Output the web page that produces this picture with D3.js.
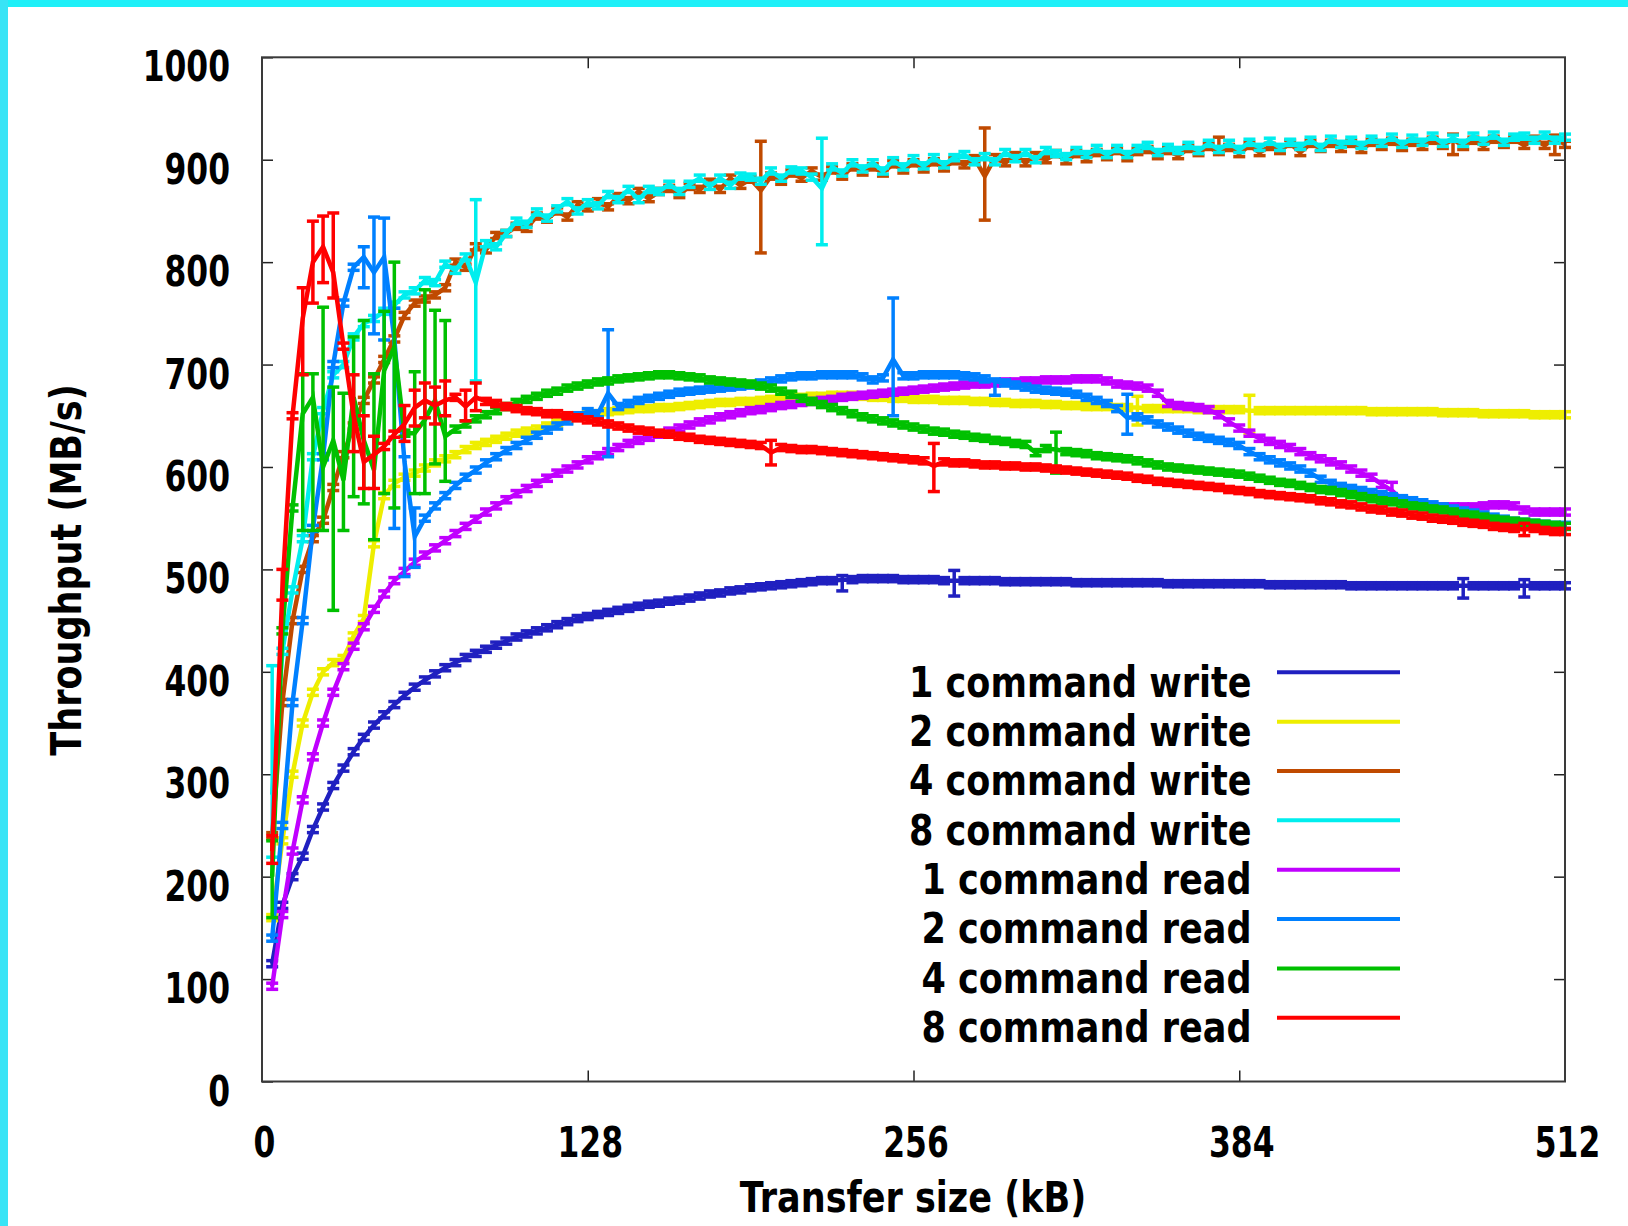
<!DOCTYPE html>
<html><head><meta charset="utf-8">
<script src="https://cdn.jsdelivr.net/npm/d3@7"></script>
<style>html,body{margin:0;padding:0;background:#fff;overflow:hidden}svg{display:block}</style>
</head><body>
<svg id="c" width="1628" height="1226"></svg>
<script>
// ---------------- DATA ----------------
const transferSizes = [
  4,8,12,16,20,24,28,32,36,40,44,48,52,56,60,64,
  68,72,76,80,84,88,92,96,100,104,108,112,116,120,124,128,
  132,136,140,144,148,152,156,160,164,168,172,176,180,184,188,192,
  196,200,204,208,212,216,220,224,228,232,236,240,244,248,252,256,
  260,264,268,272,276,280,284,288,292,296,300,304,308,312,316,320,
  324,328,332,336,340,344,348,352,356,360,364,368,372,376,380,384,
  388,392,396,400,404,408,412,416,420,424,428,432,436,440,444,448,
  452,456,460,464,468,472,476,480,484,488,492,496,500,504,508,512];

const xTicks = [0,128,256,384,512];
const yTicks = [0,100,200,300,400,500,600,700,800,900,1000];

const seriesNames = ["1 command write","2 command write","4 command write","8 command write",
                     "1 command read","2 command read","4 command read","8 command read"];

const write1 = [
  115,172,200,220,246,268,289,306,322,336,348,358,368,377,385,392,
  398,404,409,414,418,422,426,430,434,437,440,443,446,449,452,454,
  456,458,460,462,464,466,467,469,470,472,474,476,477,479,480,482,
  483,484,485,486,487,488,489,489,490,490,491,491,491,491,490,490,
  490,490,489,489,489,489,489,489,488,488,488,488,488,488,488,487,
  487,487,487,487,487,487,487,487,486,486,486,486,486,486,486,486,
  486,486,485,485,485,485,485,485,485,485,484,484,484,484,484,484,
  484,484,484,484,484,484,484,484,484,484,484,484,484,484,484,484];
const write2 = [
  160,235,300,350,380,400,409,413,435,452,525,572,584,590,594,599,
  604,608,612,617,621,624,627,630,633,635,637,640,643,646,649,651,
  652,654,655,656,657,657,658,658,659,660,661,662,663,663,664,664,
  665,666,667,668,668,669,669,670,670,670,669,668,668,667,667,666,
  666,666,665,665,665,664,664,663,663,662,662,662,661,661,660,660,
  659,659,659,658,658,658,657,657,657,657,657,656,656,656,656,656,
  655,655,655,655,655,655,655,655,655,655,655,655,654,654,654,654,
  654,654,654,653,653,653,653,652,652,652,652,652,651,651,651,651];
const write4 = [
  240,370,450,500,530,548,580,612,640,665,685,705,725,748,760,764,
  768,775,800,795,815,812,826,828,835,833,845,842,850,844,856,853,
  859,854,864,860,869,862,869,872,866,874,871,878,871,882,875,881,
  870,884,879,887,882,889,883,890,884,893,888,893,887,896,890,897,
  891,898,892,899,895,901,884,902,897,904,897,904,900,906,899,906,
  901,907,903,909,902,908,910,904,909,904,911,907,913,906,912,906,
  914,907,913,909,916,907,916,911,916,911,916,910,917,913,918,912,
  917,913,919,914,920,913,919,913,920,915,920,914,920,914,921,915];
const write8 = [
  280,420,480,530,610,655,690,700,727,740,745,752,758,768,772,782,
  780,798,792,805,780,818,815,828,840,837,849,843,852,859,850,858,
  855,866,861,871,861,871,869,876,869,876,882,874,882,875,884,883,
  879,889,882,890,889,883,872,893,887,897,891,897,889,899,893,901,
  894,902,895,902,905,898,903,898,907,901,907,900,909,906,903,909,
  905,911,905,911,905,911,914,907,912,909,914,909,916,910,916,910,
  917,912,918,912,917,913,919,912,920,915,919,914,920,916,922,915,
  921,917,923,916,921,916,923,918,924,917,922,923,919,924,919,922];
const read1 = [
  93,163,225,275,317,350,380,405,425,444,461,476,489,498,507,514,
  521,528,535,542,549,556,562,568,574,579,584,589,594,598,602,607,
  611,615,619,623,626,629,632,635,638,641,644,646,649,651,653,655,
  656,658,660,661,663,664,665,666,668,669,670,671,672,673,674,675,
  676,677,678,679,680,681,681,682,683,683,684,684,685,685,685,686,
  686,686,684,681,680,679,677,672,662,660,659,658,656,651,644,638,
  633,628,625,622,619,615,611,608,605,602,598,594,590,583,577,568,
  564,562,561,561,561,561,561,562,563,563,562,558,556,556,556,556];
const read2 = [
  140,250,370,450,540,610,700,760,795,805,790,805,725,605,532,550,
  562,572,582,590,597,604,610,616,621,626,631,636,640,645,650,654,
  652,672,659,662,665,667,669,671,673,674,675,676,677,678,679,680,
  682,684,686,688,689,689,690,690,690,690,688,685,687,705,689,689,
  690,690,690,690,689,688,686,684,682,680,678,676,675,674,673,671,
  668,665,662,657,648,649,646,642,639,636,633,630,628,626,624,621,
  615,610,607,604,601,598,594,588,584,581,579,577,575,573,571,569,
  567,565,563,561,559,557,555,553,551,549,547,546,545,544,543,543];
const read4 = [
  200,440,560,652,668,600,626,587,668,626,597,694,717,633,633,646,
  665,630,637,642,647,651,655,659,663,666,669,672,674,677,679,681,
  683,684,686,687,688,689,690,690,689,688,687,685,684,683,682,681,
  679,677,674,671,667,664,661,658,655,652,649,647,645,643,641,639,
  637,635,634,632,631,629,628,626,625,623,622,614,618,617,615,614,
  613,611,610,609,608,606,604,602,600,599,598,597,596,595,594,593,
  591,589,587,585,584,582,580,578,577,575,573,571,569,567,566,564,
  562,561,559,558,556,554,553,551,549,548,547,546,545,544,543,542];
const read8 = [
  225,480,650,745,800,815,790,718,650,605,612,620,632,642,658,665,
  660,665,668,659,668,664,662,659,657,655,654,652,652,650,648,646,
  644,642,640,638,636,635,633,632,630,629,627,626,625,624,623,622,
  621,614,619,618,617,617,616,615,614,613,612,611,610,609,608,607,
  606,601,605,604,604,603,602,602,601,601,600,600,599,598,597,596,
  595,594,593,592,591,589,588,586,585,584,583,582,581,580,578,577,
  576,574,573,572,571,570,569,567,566,564,563,561,559,558,556,555,
  553,552,550,549,548,546,545,544,542,541,540,539,540,538,537,537];

// measured spread of each point (MB/s): the usual small spread, and the wide bars [size, low, high]
const usualSpread = [3,3,3,3,3,3,3,3];
const write1Err = [[228,479,494],[272,474,499],[472,472,491],[496,473,490]];
const write2Err = [[344,641,669],[388,633,670]];
const write4Err = [[196,809,918],[284,841,931],[376,905,922],[468,905,925],[508,905,924]];
const write8Err = [[4,219,406],[84,684,861],[220,817,921]];
const read1Err  = [[444,570,585]];
const read2Err  = [[40,775,815],[44,730,844],[48,724,843],[52,540,755],[56,493,610],[60,502,560],
                   [136,610,734],[248,650,765],[288,670,686],[340,632,671]];
const read4Err  = [[4,160,235],[16,538,691],[20,538,691],[24,538,756],[28,460,678],[32,538,672],
                   [36,571,727],[40,564,743],[44,529,691],[48,574,752],[52,560,800],[60,574,693],
                   [64,574,773],[68,603,753],[72,586,743],[312,594,634]];
const read8Err  = [[4,213,240],[8,470,500],[16,690,775],[20,760,840],[24,780,845],[28,765,848],
                   [36,615,690],[40,579,650],[44,579,630],[56,625,660],[60,640,675],[64,648,682],
                   [68,642,678],[72,650,684],[80,645,675],[84,655,682],[200,602,626],[264,576,623],
                   [496,533,545]];

// ---------------- STYLE ----------------
const colors = ["#2020c0","#eeee00","#c04a00","#00eeee","#c000ff","#0080ff","#00c000","#ff0000"];
const allValues = [write1,write2,write4,write8,read1,read2,read4,read8];
const allErr = [write1Err,write2Err,write4Err,write8Err,read1Err,read2Err,read4Err,read8Err];

const W = 1628, H = 1226;
const L = 262, R = 1565, T = 57.3, B = 1081.5;
const FONT = "'DejaVu Sans', sans-serif";

const svg = d3.select('#c');
svg.append('rect').attr('width',W).attr('height',H).attr('fill','#fff');
// cyan page edge
svg.append('rect').attr('x',0).attr('y',0).attr('width',W).attr('height',7).attr('fill','#1ef0f8');
svg.append('rect').attr('x',0).attr('y',0).attr('width',8).attr('height',H).attr('fill','#38e4f6');

const x = d3.scaleLinear().domain([0,512]).range([L,R]);
const y = d3.scaleLinear().domain([0,1000]).range([B,T]);

// axes (inward ticks, mirrored)
const tickLen = 11;
function styleAxis(g){ g.select('.domain').remove(); g.selectAll('.tick line').attr('stroke','#222').attr('stroke-width',1.5); }
svg.append('g').attr('transform',`translate(${L},0)`)
  .call(d3.axisLeft(y).tickValues(yTicks).tickSize(-tickLen).tickFormat(''))
  .call(styleAxis);
svg.append('g').attr('transform',`translate(${R},0)`)
  .call(d3.axisRight(y).tickValues(yTicks.slice(1,-1)).tickSize(-tickLen).tickFormat(''))
  .call(styleAxis);
svg.append('g').attr('transform',`translate(0,${B})`)
  .call(d3.axisBottom(x).tickValues(xTicks.slice(1,-1)).tickSize(-tickLen).tickFormat(''))
  .call(styleAxis);
svg.append('g').attr('transform',`translate(0,${T})`)
  .call(d3.axisTop(x).tickValues(xTicks.slice(1,-1)).tickSize(-tickLen).tickFormat(''))
  .call(styleAxis);

// tick labels
const numScale = 0.73, txtScale = 0.815, fs = 43;
svg.append('g').selectAll('text').data(yTicks).join('text')
  .attr('transform', d => `translate(${L-32},${y(d)+24}) scale(${numScale},1)`)
  .attr('text-anchor','end').attr('font-family',FONT).attr('font-weight','bold')
  .attr('font-size',fs).attr('fill','#000').text(d => d);
svg.append('g').selectAll('text').data(xTicks).join('text')
  .attr('transform', d => `translate(${x(d)+2.5},1157) scale(${numScale},1)`)
  .attr('text-anchor','middle').attr('font-family',FONT).attr('font-weight','bold')
  .attr('font-size',fs).attr('fill','#000').text(d => d);

// axis titles
svg.append('text').attr('transform',`translate(81,570) rotate(-90) scale(${txtScale},1)`)
  .attr('text-anchor','middle').attr('font-family',FONT).attr('font-weight','bold')
  .attr('font-size',fs).attr('fill','#000').text('Throughput (MB/s)');
svg.append('text').attr('transform',`translate(913,1212) scale(${txtScale},1)`)
  .attr('text-anchor','middle').attr('font-family',FONT).attr('font-weight','bold')
  .attr('font-size',fs).attr('fill','#000').text('Transfer size (kB)');

// series
const lineGen = d3.line().x(d => x(d.x)).y(d => y(d.v));
const capHalf = 6;
allValues.forEach((vals, s) => {
  const errMap = new Map(allErr[s].map(e => [e[0], e]));
  const pts = transferSizes.map((xv, i) => {
    const e = errMap.get(xv);
    return {x: xv, v: vals[i], lo: e ? e[1] : vals[i]-usualSpread[s], hi: e ? e[2] : vals[i]+usualSpread[s]};
  });
  const g = svg.append('g');
  g.append('path').datum(pts).attr('d', lineGen).attr('fill','none')
    .attr('stroke', colors[s]).attr('stroke-width',4.5).attr('stroke-linejoin','miter');
  const eb = g.append('g').attr('stroke', colors[s]).attr('stroke-width',3.5);
  eb.selectAll('line.v').data(pts).join('line').attr('class','v')
    .attr('x1', d => x(d.x)).attr('x2', d => x(d.x)).attr('y1', d => y(d.lo)).attr('y2', d => y(d.hi));
  eb.selectAll('line.lo').data(pts).join('line').attr('class','lo')
    .attr('x1', d => x(d.x)-capHalf).attr('x2', d => x(d.x)+capHalf).attr('y1', d => y(d.lo)).attr('y2', d => y(d.lo));
  eb.selectAll('line.hi').data(pts).join('line').attr('class','hi')
    .attr('x1', d => x(d.x)-capHalf).attr('x2', d => x(d.x)+capHalf).attr('y1', d => y(d.hi)).attr('y2', d => y(d.hi));
});

// frame
svg.append('rect').attr('x',L).attr('y',T).attr('width',R-L).attr('height',B-T)
  .attr('fill','none').attr('stroke','#3a3a3a').attr('stroke-width',2);

// legend
const legY0 = 672.3, legDy = 49.35;
const leg = svg.append('g');
seriesNames.forEach((name, i) => {
  const yy = legY0 + i*legDy;
  leg.append('text').attr('transform',`translate(1251.5,${yy+24.4}) scale(${txtScale},1)`)
    .attr('text-anchor','end').attr('font-family',FONT).attr('font-weight','bold')
    .attr('font-size',fs).attr('fill','#000').text(name);
  leg.append('line').attr('x1',1277).attr('x2',1400).attr('y1',yy).attr('y2',yy)
    .attr('stroke',colors[i]).attr('stroke-width',4);
});
</script>
</body></html>
